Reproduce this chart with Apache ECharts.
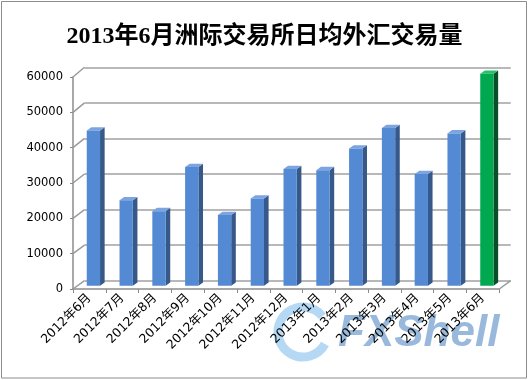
<!DOCTYPE html>
<html>
<head>
<meta charset="utf-8">
<script src="https://cdn.jsdelivr.net/npm/echarts@6/dist/echarts.min.js"></script>
<style>
html,body{margin:0;padding:0;background:#fff;}
#c{width:529px;height:380px;}
</style>
</head>
<body>
<div id="c"></div>
<script>
const categories = ['2012年6月','2012年7月','2012年8月','2012年9月','2012年10月','2012年11月','2012年12月','2013年1月','2013年2月','2013年3月','2013年4月','2013年5月','2013年6月'];
const volumes = [43900, 24200, 21100, 33600, 20000, 24700, 33000, 32700, 38800, 44600, 31600, 43100, 60000];
const yTicks = [0, 10000, 20000, 30000, 40000, 50000, 60000];
const titleText = '2013年6月洲际交易所日均外汇交易量';

const chart = echarts.init(document.getElementById('c'), null, {renderer: 'canvas'});

const BLUE = {front: '#5489d3', side: '#37598a', top: '#7ba4e0'};
const GREEN = {front: '#00a84f', side: '#0a4f29', top: '#2bbf6a'};

function wallLines(params, api) {
  const v = api.value(1);
  const b = api.coord([0, v]);
  const fy = b[1] + 8.3 + 1.4 * v / 60000;
  const children = [{
    type: 'line',
    shape: {x1: b[0], y1: b[1], x2: b[0] - 11.5, y2: fy},
    style: {stroke: '#9a9a9a', lineWidth: 1.5}
  }];
  if (v === 0) {
    const r = api.coord([1, 0]);
    children.push({
      type: 'line',
      shape: {x1: r[0], y1: r[1], x2: r[0] - 11.4, y2: r[1] + 8.3},
      style: {stroke: '#9a9a9a', lineWidth: 1.5}
    });
  }
  return {type: 'group', children: children};
}

function bar3d(params, api) {
  const i = api.value(0);
  const v = api.value(1);
  const c = api.coord([i, v]);
  const b = api.coord([i, 0]);
  const w = 13.3, d = 4.6, dh = 3.3, shiftX = 4, shiftY = -3.3;
  const x0 = c[0] - w / 2 + shiftX;
  const top = c[1] + shiftY;
  const bot = b[1] + shiftY;
  const col = (params.dataIndex === volumes.length - 1) ? GREEN : BLUE;
  return {
    type: 'group',
    children: [
      {type: 'polygon', shape: {points: [[x0 + w, top], [x0 + w + d, top - dh], [x0 + w + d, bot - dh], [x0 + w, bot]]},
        style: {fill: col.side}},
      {type: 'polygon', shape: {points: [[x0, top], [x0 + d, top - dh], [x0 + w + d, top - dh], [x0 + w, top]]},
        style: {fill: col.top}},
      {type: 'rect', shape: {x: x0, y: top, width: w, height: bot - top},
        style: {fill: col.front}}
    ]
  };
}

const option = {
  backgroundColor: '#fff',
  animation: false,
  title: {
    text: titleText,
    left: 'center',
    top: 20,
    textStyle: {fontFamily: "'Liberation Serif','Noto Sans CJK SC'", fontSize: 24, fontWeight: 'bold', color: '#000'}
  },
  graphic: [
    {type: 'rect', z: 100, shape: {x: 1.5, y: 1.5, width: 525, height: 376.5},
      style: {fill: 'none', stroke: '#8c8c8c', lineWidth: 1}},
    {type: 'arc', z: -5, shape: {cx: 303, cy: 332, r: 25, startAngle: 0.5, endAngle: 5.6},
      style: {fill: 'none', stroke: 'rgba(120,185,235,0.55)', lineWidth: 9}},
    {type: 'arc', z: -5, shape: {cx: 420, cy: 326, r: 120, startAngle: 0.55, endAngle: 2.4},
      style: {fill: 'none', stroke: 'rgba(250,200,140,0.55)', lineWidth: 3}},
    {type: 'text', z: -4, left: 338, top: 312,
      style: {text: 'FXShell', fontSize: 44, fontWeight: 'bold', fontStyle: 'italic', fontFamily: 'Arial, Liberation Sans',
        fill: 'rgba(110,155,205,0.7)'}}
  ],
  grid: [
    {left: 84.5, right: 18.3, top: 67.3, bottom: 99.3},
    {left: 73, right: 29.7, top: 77, bottom: 91}
  ],
  xAxis: [
    {gridIndex: 0, type: 'value', min: 0, max: 1, show: false},
    {gridIndex: 1, type: 'category', data: categories,
      axisLine: {lineStyle: {color: '#8c8c8c', width: 1.5}},
      axisTick: {show: true, length: 4, lineStyle: {color: '#8c8c8c'}},
      axisLabel: {rotate: 45, interval: 0, margin: 7, fontSize: 12.5, color: '#000', fontFamily: "'DejaVu Sans','Noto Sans CJK SC'"}}
  ],
  yAxis: [
    {gridIndex: 0, type: 'value', min: 0, max: 60000, interval: 10000,
      axisLine: {show: false}, axisTick: {show: false}, axisLabel: {show: false},
      splitLine: {show: true, lineStyle: {color: '#a0a0a0', width: 1.5}}},
    {gridIndex: 1, type: 'value', min: 0, max: 60000, interval: 10000,
      axisLine: {show: true, lineStyle: {color: '#8c8c8c', width: 1.5}},
      axisTick: {show: true, length: 3, lineStyle: {color: '#8c8c8c'}},
      axisLabel: {margin: 10, fontSize: 11.5, color: '#000', fontFamily: "'DejaVu Sans'", formatter: v => String(v)},
      splitLine: {show: false}}
  ],
  series: [
    {type: 'custom', xAxisIndex: 0, yAxisIndex: 0, data: yTicks.map(v => [0, v]), renderItem: wallLines, silent: true},
    {type: 'custom', xAxisIndex: 1, yAxisIndex: 1, data: volumes.map((v, i) => [i, v]), renderItem: bar3d, z: 5}
  ]
};
chart.setOption(option);
</script>
</body>
</html>
